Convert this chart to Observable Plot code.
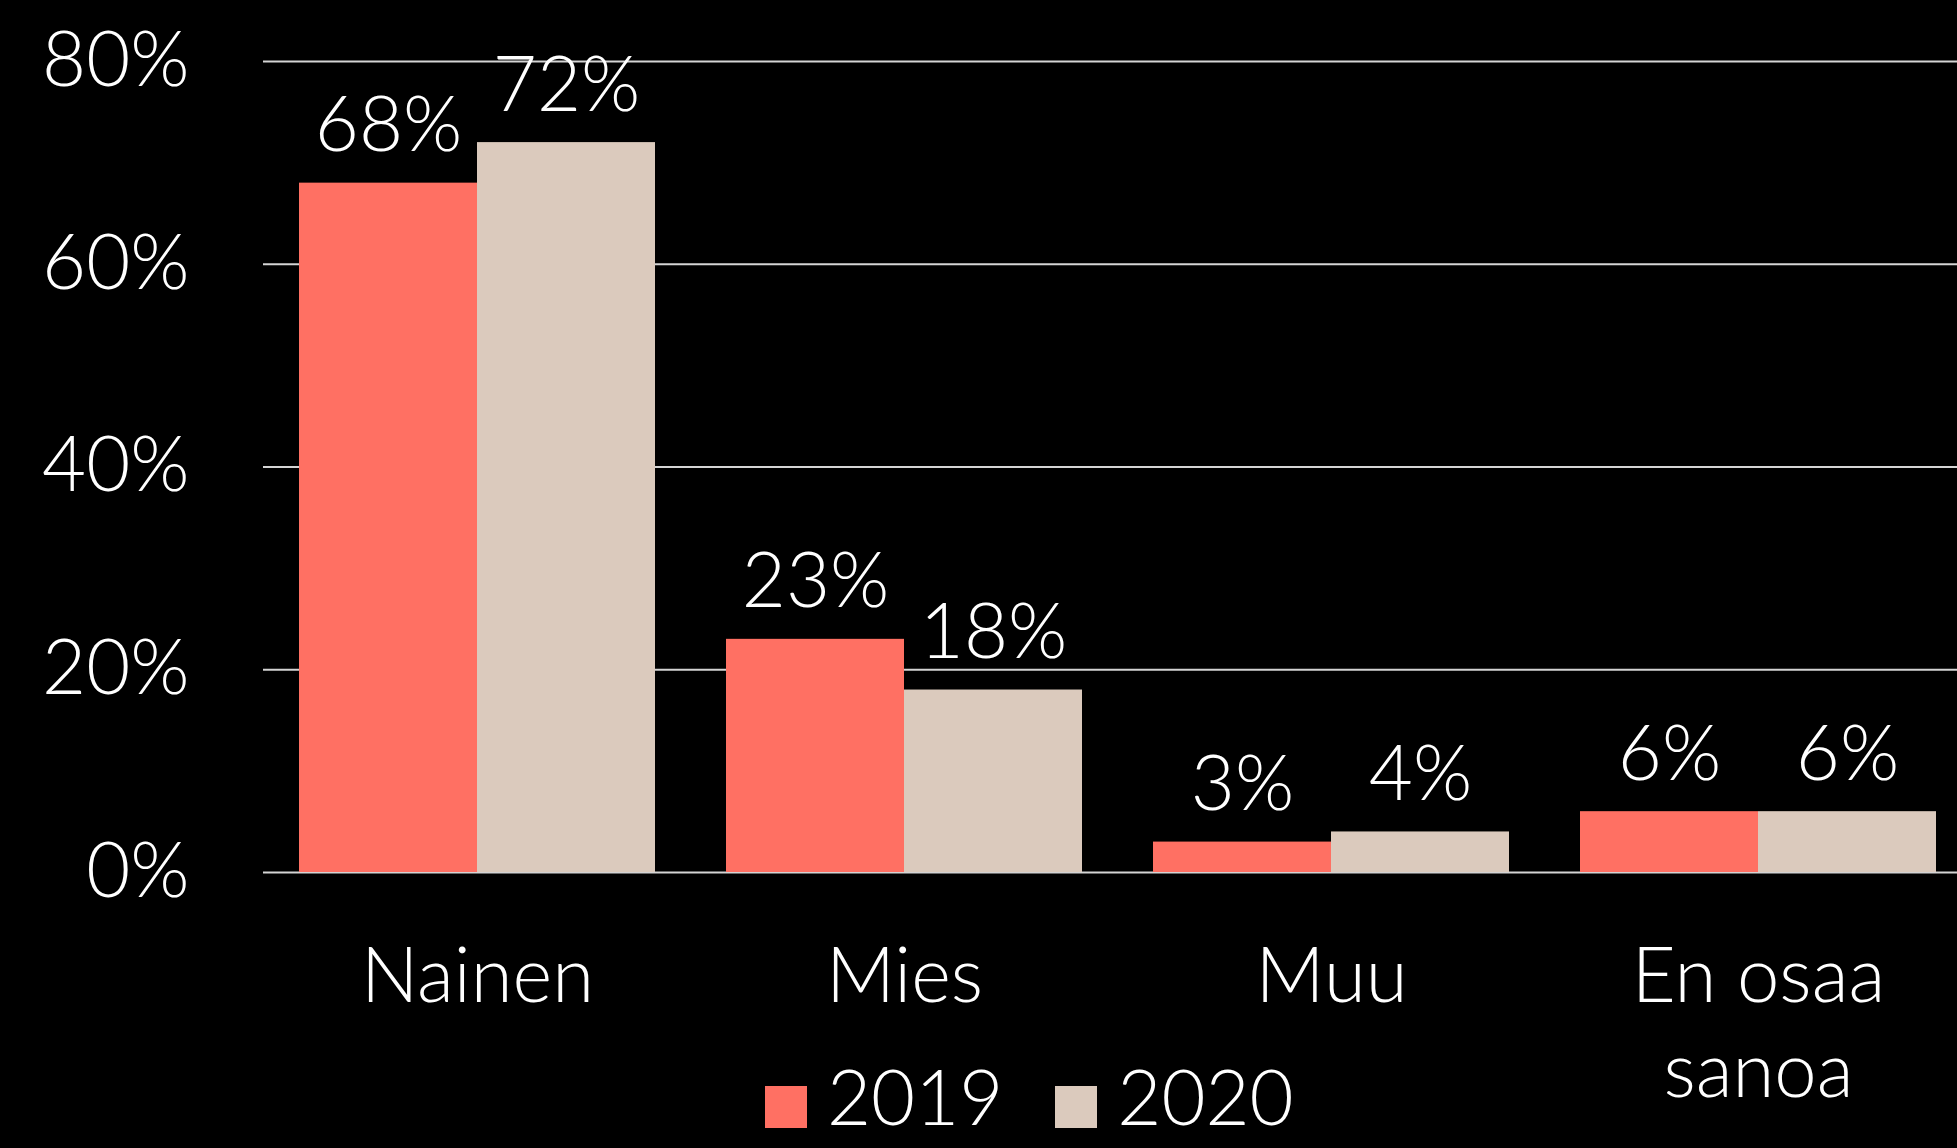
<!DOCTYPE html>
<html>
<head>
<meta charset="utf-8">
<script src="https://cdn.jsdelivr.net/npm/d3@7"></script>
<script src="https://cdn.jsdelivr.net/npm/@observablehq/plot@0.6"></script>
<style>
  html, body { margin: 0; padding: 0; background: #000; }
  #wrap { position: relative; width: 1957px; height: 1148px; overflow: hidden; background: #000; }
  #legend { position: absolute; left: 765px; top: 1058px; display: flex; align-items: center;
            font-family: Lato, sans-serif; font-weight: 300; font-size: 76px; color: #fff; line-height: 1; }
  #legend .item { display: flex; align-items: center; margin-right: 52px; }
  #legend .sw { width: 42px; height: 42px; margin-right: 20px; margin-top: 22px; }
</style>
</head>
<body>
<div id="wrap"></div>
<script>
const categories = ["Nainen", "Mies", "Muu", "En osaa sanoa"];
const categoryLabels = ["Nainen", "Mies", "Muu", "En osaa\nsanoa"];
const years = ["2019", "2020"];
const values2019 = [68, 23, 3, 6];
const values2020 = [72, 18, 4, 6];
const yTicks = [0, 20, 40, 60, 80];
const colors = ["#ff7063", "#dbcabd"];

const rows2019 = categories.map((c, i) => ({category: c, year: years[0], value: values2019[i]}));
const rows2020 = categories.map((c, i) => ({category: c, year: years[1], value: values2020[i]}));

const half = 178;

const chart = Plot.plot({
  width: 1957,
  height: 1148,
  marginLeft: 263,
  marginRight: 0,
  marginTop: 61,
  marginBottom: 276,
  style: {background: "#000", color: "#fff", fontFamily: "Lato, sans-serif", fontWeight: 300, fontSize: "76px", overflow: "visible"},
  x: {domain: categories, range: [298, 1937], paddingInner: 0.167, paddingOuter: 0, axis: null},
  y: {domain: [0, 80], axis: null},
  color: {domain: years, range: colors},
  marks: [
    Plot.ruleY(yTicks, {y: d => d, stroke: "#d4d4d4", strokeWidth: 2}),
    Plot.text(yTicks, {y: d => d, text: d => d + "%", frameAnchor: "left", textAnchor: "end", dx: -74, fill: "#fff"}),
    Plot.barY(rows2019, {x: "category", y: "value", fill: "year", insetRight: half}),
    Plot.barY(rows2020, {x: "category", y: "value", fill: "year", insetLeft: half}),
    Plot.text(rows2019, {x: "category", y: "value", text: d => d.value + "%", dx: -half / 2, dy: -32, lineAnchor: "bottom", fill: "#fff"}),
    Plot.text(rows2020, {x: "category", y: "value", text: d => d.value + "%", dx: half / 2, dy: -32, lineAnchor: "bottom", fill: "#fff"}),
    Plot.text(categories, {x: d => d, text: (d, i) => categoryLabels[i], frameAnchor: "bottom", lineAnchor: "top", dy: 62, lineHeight: 1.25, fill: "#fff"})
  ]
});

const wrap = document.getElementById("wrap");
wrap.appendChild(chart);

const legend = document.createElement("div");
legend.id = "legend";
years.forEach((y, i) => {
  const item = document.createElement("div");
  item.className = "item";
  const sw = document.createElement("span");
  sw.className = "sw";
  sw.style.background = colors[i];
  const label = document.createElement("span");
  label.textContent = y;
  item.appendChild(sw);
  item.appendChild(label);
  legend.appendChild(item);
});
wrap.appendChild(legend);
</script>
</body>
</html>
